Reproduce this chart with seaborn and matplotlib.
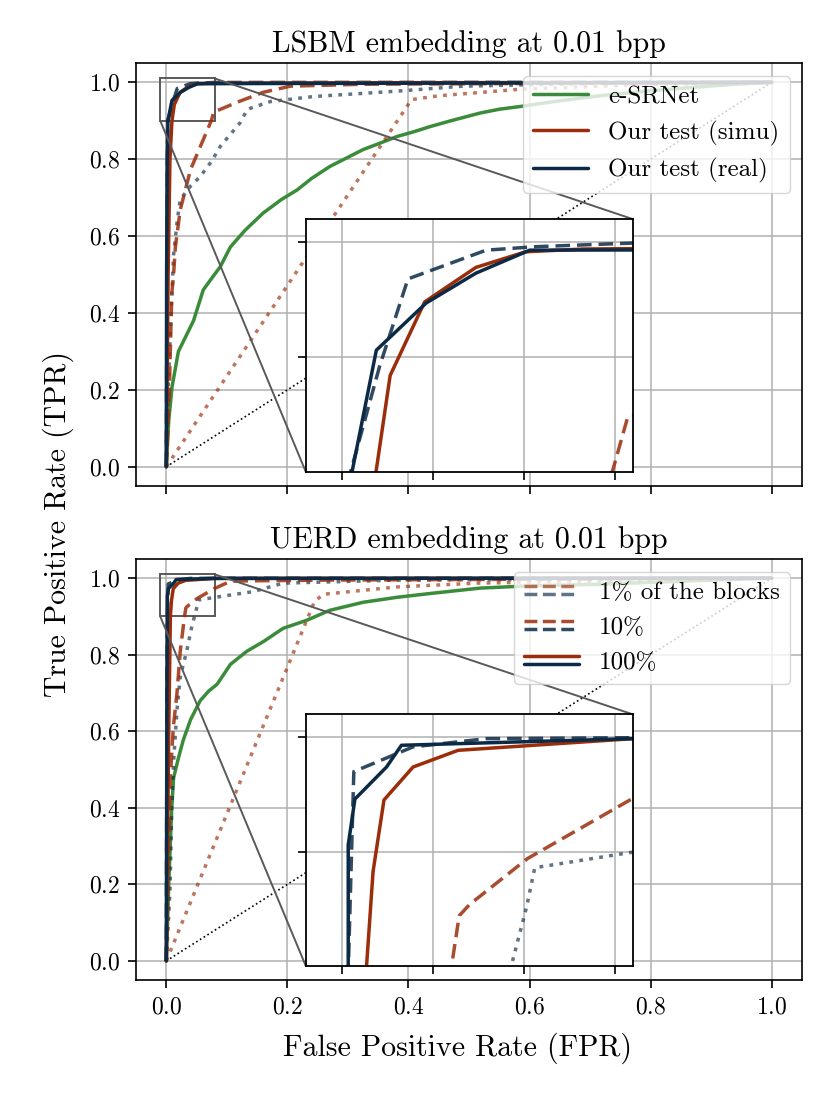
import matplotlib
matplotlib.use("Agg")
import matplotlib.pyplot as plt
import seaborn as sns
from matplotlib.lines import Line2D
from matplotlib.legend_handler import HandlerBase
from mpl_toolkits.axes_grid1.inset_locator import mark_inset

# ---------------- data ----------------
# LSBM embedding at 0.01 bpp
lsbm_esr_fpr = [0, 0.004, 0.0094, 0.02, 0.045, 0.061, 0.073, 0.089, 0.106, 0.13, 0.16, 0.19,
                0.216, 0.24, 0.27, 0.30, 0.325, 0.35, 0.381, 0.41, 0.436, 0.47, 0.518, 0.55,
                0.584, 0.65, 0.716, 0.8, 0.88, 0.94, 1.0]
lsbm_esr_tpr = [0, 0.12, 0.207, 0.30, 0.38, 0.46, 0.486, 0.52, 0.572, 0.615, 0.66, 0.695,
                0.72, 0.75, 0.781, 0.805, 0.825, 0.84, 0.859, 0.872, 0.885, 0.90, 0.92, 0.93,
                0.937, 0.952, 0.965, 0.978, 0.988, 0.995, 1.0]

lsbm_simu1_fpr = [0, 0.405, 0.45, 0.584, 0.75, 1.0]
lsbm_simu1_tpr = [0, 0.955, 0.965, 0.982, 0.992, 1.0]
lsbm_simu10_fpr = [0, 0.005, 0.009, 0.012, 0.015, 0.023, 0.04, 0.06, 0.0745, 0.0786, 0.0835,
                   0.12, 0.16, 0.205, 0.325, 1.0]
lsbm_simu10_tpr = [0, 0.2, 0.45, 0.5, 0.572, 0.668, 0.773, 0.847, 0.901, 0.924, 0.926,
                   0.95, 0.974, 0.99, 0.995, 1.0]
lsbm_simu100_fpr = [0, 0.003, 0.006, 0.0093, 0.0132, 0.0227, 0.0368, 0.0505, 0.0663, 0.15, 0.4, 1.0]
lsbm_simu100_tpr = [0, 0.5, 0.8, 0.9, 0.942, 0.974, 0.989, 0.9958, 0.997, 0.998, 0.999, 1.0]

lsbm_real1_fpr = [0, 0.003, 0.008, 0.012, 0.018, 0.023, 0.04, 0.056, 0.075, 0.089, 0.122,
                  0.134, 0.172, 0.243, 0.381, 0.49, 0.7, 1.0]
lsbm_real1_tpr = [0, 0.2, 0.4, 0.55, 0.64, 0.695, 0.73, 0.755, 0.795, 0.833, 0.895,
                  0.93, 0.95, 0.963, 0.977, 0.99, 0.997, 1.0]
lsbm_real10_fpr = [0, 0.001, 0.002, 0.0023, 0.0103, 0.0181, 0.0396, 0.053, 0.08, 0.2, 1.0]
lsbm_real10_tpr = [0, 0.5, 0.85, 0.9, 0.946, 0.984, 0.9965, 0.998, 0.9996, 0.9998, 1.0]
lsbm_real100_fpr = [0, 0.0005, 0.0015, 0.0027, 0.0094, 0.0231, 0.0368, 0.0516, 0.2, 1.0]
lsbm_real100_tpr = [0, 0.5, 0.8, 0.9, 0.953, 0.9735, 0.9865, 0.9965, 0.997, 1.0]

# UERD embedding at 0.01 bpp
uerd_esr_fpr = [0, 0.004, 0.009, 0.012, 0.02, 0.028, 0.04, 0.056, 0.07, 0.084, 0.106, 0.133,
                0.16, 0.193, 0.232, 0.27, 0.325, 0.381, 0.436, 0.518, 0.6, 0.716, 0.85, 1.0]
uerd_esr_tpr = [0, 0.2, 0.4, 0.478, 0.53, 0.577, 0.63, 0.68, 0.705, 0.723, 0.775, 0.809,
                0.834, 0.869, 0.89, 0.916, 0.937, 0.95, 0.96, 0.974, 0.98, 0.984, 0.992, 1.0]

uerd_simu1_fpr = [0, 0.245, 0.26, 0.38, 0.513, 1.0]
uerd_simu1_tpr = [0, 0.94, 0.958, 0.977, 0.987, 1.0]
uerd_simu10_fpr = [0, 0.003, 0.0066, 0.0116, 0.0176, 0.023, 0.0301, 0.0322, 0.0351, 0.051,
                   0.0792, 0.106, 0.133, 0.27, 1.0]
uerd_simu10_tpr = [0, 0.25, 0.48, 0.611, 0.699, 0.809, 0.9, 0.922, 0.927, 0.947,
                   0.9726, 0.992, 0.993, 0.995, 1.0]
uerd_simu100_fpr = [0, 0.004, 0.0067, 0.0085, 0.0115, 0.0195, 0.0319, 0.08, 0.3, 1.0]
uerd_simu100_tpr = [0, 0.6, 0.9, 0.9414, 0.9726, 0.987, 0.9943, 0.9994, 0.9997, 1.0]

uerd_real1_fpr = [0, 0.006, 0.009, 0.012, 0.0176, 0.023, 0.034, 0.042, 0.047, 0.0507, 0.053,
                  0.0783, 0.144, 0.193, 0.381, 1.0]
uerd_real1_tpr = [0, 0.18, 0.4, 0.52, 0.655, 0.742, 0.812, 0.873, 0.903, 0.9255, 0.943,
                  0.9494, 0.965, 0.987, 0.995, 1.0]
uerd_real10_fpr = [0, 0.001, 0.0017, 0.0032, 0.0195, 0.0397, 0.08, 1.0]
uerd_real10_tpr = [0, 0.7, 0.9, 0.985, 0.9958, 0.9994, 0.9998, 1.0]
uerd_real100_fpr = [0, 0.001, 0.00166, 0.00166, 0.0035, 0.0122, 0.0163, 0.08, 1.0]
uerd_real100_tpr = [0, 0.7, 0.9, 0.953, 0.973, 0.987, 0.9965, 0.9994, 1.0]

chance = [0, 1]
x_ticks = [0.0, 0.2, 0.4, 0.6, 0.8, 1.0]
inset_xticks = [0.0, 0.025, 0.05, 0.075]
inset_yticks = [0.95, 1.0]

GREEN = "#3a8c3a"
RED = "#9b2d0a"
NAVY = "#0c2a45"

# ---------------- style ----------------
sns.set_theme(style="ticks")
plt.rcParams.update({
    "font.family": "serif",
    "font.serif": ["cmr10"],
    "mathtext.fontset": "cm",
    "axes.formatter.use_mathtext": True,
    "text.color": "black",
    "axes.labelcolor": "black",
    "axes.edgecolor": "black",
    "axes.linewidth": 1.2,
    "xtick.major.size": 5.5,
    "ytick.major.size": 5.5,
    "xtick.major.width": 1.2,
    "ytick.major.width": 1.2,
    "xtick.major.pad": 6,
    "ytick.major.pad": 6,
    "xtick.color": "black",
    "ytick.color": "black",
})

LW = 2.5
DOT = (0, (1.1, 1.8))
DASH = (0, (4.2, 2.0))


class StackedPair(HandlerBase):
    # two short lines on top of each other (simu above, real below)
    def create_artists(self, legend, orig_handle, xdescent, ydescent, width, height,
                       fontsize, trans):
        arts = []
        for k, h in enumerate(orig_handle):
            y = height * (0.72 - 0.44 * k) - ydescent
            ln = Line2D([-xdescent, width - xdescent], [y, y], color=h.get_color(),
                        linestyle=h.get_linestyle(), linewidth=h.get_linewidth(),
                        alpha=h.get_alpha())
            ln.set_transform(trans)
            arts.append(ln)
        return arts


def draw_curves(ax, d):
    sns.lineplot(x=d["esr"][0], y=d["esr"][1], ax=ax, color=GREEN, lw=LW,
                 estimator=None, sort=False)
    styles = [("1", DOT, 0.65), ("10", DASH, 0.85), ("100", "-", 1.0)]
    for key, ls, a in styles:
        sns.lineplot(x=d["simu" + key][0], y=d["simu" + key][1], ax=ax, color=RED,
                     lw=LW, linestyle=ls, alpha=a, estimator=None, sort=False)
        sns.lineplot(x=d["real" + key][0], y=d["real" + key][1], ax=ax, color=NAVY,
                     lw=LW, linestyle=ls, alpha=a, estimator=None, sort=False)


panels = [
    ("LSBM embedding at 0.01 bpp", {
        "esr": (lsbm_esr_fpr, lsbm_esr_tpr),
        "simu1": (lsbm_simu1_fpr, lsbm_simu1_tpr),
        "simu10": (lsbm_simu10_fpr, lsbm_simu10_tpr),
        "simu100": (lsbm_simu100_fpr, lsbm_simu100_tpr),
        "real1": (lsbm_real1_fpr, lsbm_real1_tpr),
        "real10": (lsbm_real10_fpr, lsbm_real10_tpr),
        "real100": (lsbm_real100_fpr, lsbm_real100_tpr),
    }),
    ("UERD embedding at 0.01 bpp", {
        "esr": (uerd_esr_fpr, uerd_esr_tpr),
        "simu1": (uerd_simu1_fpr, uerd_simu1_tpr),
        "simu10": (uerd_simu10_fpr, uerd_simu10_tpr),
        "simu100": (uerd_simu100_fpr, uerd_simu100_tpr),
        "real1": (uerd_real1_fpr, uerd_real1_tpr),
        "real10": (uerd_real10_fpr, uerd_real10_tpr),
        "real100": (uerd_real100_fpr, uerd_real100_tpr),
    }),
]

fig = plt.figure(figsize=(8.3, 11.07), dpi=100)
ax_top = fig.add_axes([0.1639, 0.561, 0.8024, 0.382])
ax_bot = fig.add_axes([0.1639, 0.1147, 0.8024, 0.3803])

for i, (ax, (title, d)) in enumerate(zip([ax_top, ax_bot], panels)):
    sns.lineplot(x=chance, y=chance, ax=ax, color="black", lw=1.2, linestyle=":",
                 estimator=None)
    draw_curves(ax, d)
    ax.set_xlim(-0.05, 1.05)
    ax.set_ylim(-0.05, 1.05)
    ax.set_xticks(x_ticks)
    ax.set_yticks(x_ticks)
    ax.grid(True, color="#b0b0b0", lw=1.1)
    ax.set_axisbelow(True)
    ax.set_title(title, fontsize=21.5, pad=8)
    ax.tick_params(labelsize=17)
    ax.set_xlabel("")
    ax.set_ylabel("")
    if i == 0:
        ax.tick_params(labelbottom=False)

    # zoomed inset of the upper-left corner
    axins = ax.inset_axes([0.255, 0.033, 0.491, 0.598])
    draw_curves(axins, d)
    axins.set_xlim(-0.01, 0.08)
    axins.set_ylim(0.9, 1.01)
    axins.set_xticks(inset_xticks)
    axins.set_yticks(inset_yticks)
    axins.tick_params(labelleft=False, labelbottom=False)
    axins.grid(True, color="#b0b0b0", lw=1.1)
    axins.set_xlabel("")
    axins.set_ylabel("")
    for s in axins.spines.values():
        s.set_linewidth(1.3)
    mark_inset(ax, axins, loc1=1, loc2=3, fc="none", ec="0.35", lw=1.4)

# legends
h_esr = Line2D([], [], color=GREEN, lw=LW)
h_simu = Line2D([], [], color=RED, lw=LW)
h_real = Line2D([], [], color=NAVY, lw=LW)
ax_top.legend([h_esr, h_simu, h_real], ["e-SRNet", "Our test (simu)", "Our test (real)"],
              loc="upper right", fontsize=18, handlelength=2.2, framealpha=0.8,
              edgecolor="0.8", fancybox=True)

pairs = []
for ls, a in [(DOT, 0.65), (DASH, 0.85), ("-", 1.0)]:
    pairs.append((Line2D([], [], color=RED, lw=LW, linestyle=ls, alpha=a),
                  Line2D([], [], color=NAVY, lw=LW, linestyle=ls, alpha=a)))
ax_bot.legend(pairs, ["1% of the blocks", "10%", "100%"], loc="upper right",
              fontsize=18, handlelength=2.2, framealpha=0.8, edgecolor="0.8",
              fancybox=True, handler_map={tuple: StackedPair()})

ax_bot.set_xlabel("False Positive Rate (FPR)", fontsize=21.5, labelpad=8)
ax_bot.xaxis.set_label_coords(0.483, -0.125)
fig.text(0.07, 0.527, "True Positive Rate (TPR)", rotation=90, fontsize=21.5,
         ha="center", va="center")

fig.savefig("out.png", dpi=100)
